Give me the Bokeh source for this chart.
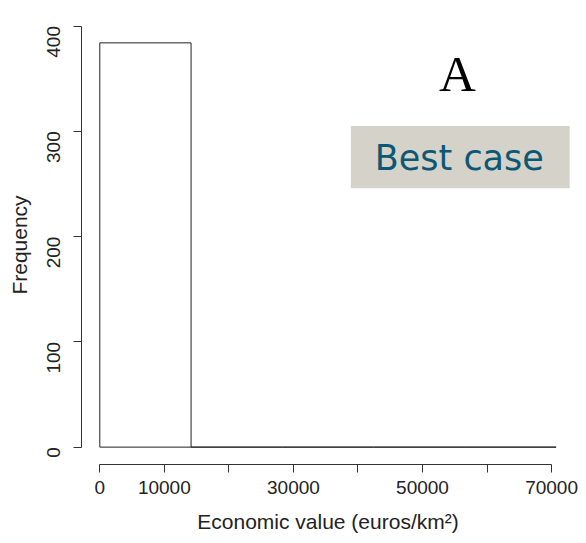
from bokeh.plotting import figure
from bokeh.models import Range1d, LinearAxis, FixedTicker, BoxAnnotation, Label
from bokeh.embed import file_html
from bokeh.resources import INLINE
import math

# Histogram data (bin edges in euros/km², counts)
bin_edges = [0, 14140, 28280, 42420, 56560, 70700]
counts = [384, 0, 0, 0, 0]
x_ticks = [0, 10000, 20000, 30000, 40000, 50000, 60000, 70000]
x_tick_labels = ["0", "10000", "", "30000", "", "50000", "", "70000"]
y_ticks = [0, 100, 200, 300, 400]
panel_letter = "A"
scenario = "Best case"

p = figure(width=578, height=535, output_backend="svg", toolbar_location=None,
           x_range=Range1d(-2837, 73550), y_range=Range1d(-16.5, 400.5),
           x_axis_location=None, y_axis_location=None,
           min_border_left=81, min_border_right=4, min_border_top=25, min_border_bottom=69)
p.outline_line_color = None
p.grid.visible = False
p.background_fill_color = "white"

p.quad(left=bin_edges[:-1], right=bin_edges[1:], top=counts, bottom=0,
       fill_color="white", line_color="#222222", line_width=1)

font = "Liberation Sans"
xaxis = LinearAxis(bounds=(0, 70000), ticker=FixedTicker(ticks=x_ticks),
                   major_label_overrides={t: l for t, l in zip(x_ticks, x_tick_labels)},
                   axis_label="Economic value (euros/km²)")
yaxis = LinearAxis(bounds=(0, 400), ticker=FixedTicker(ticks=y_ticks),
                   axis_label="Frequency", major_label_orientation=math.pi / 2)
for ax in (xaxis, yaxis):
    ax.major_tick_out = 8
    ax.major_tick_in = 0
    ax.minor_tick_out = 0
    ax.minor_tick_in = 0
    ax.axis_line_color = "#333333"
    ax.major_tick_line_color = "#333333"
    ax.major_label_text_font = font
    ax.major_label_text_font_size = "19px"
    ax.major_label_text_color = "#222222"
    ax.axis_label_text_font = font
    ax.axis_label_text_font_size = "21px"
    ax.axis_label_text_font_style = "normal"
    ax.axis_label_text_color = "#222222"
xaxis.major_label_standoff = 8
xaxis.axis_label_standoff = 13
yaxis.major_label_standoff = 20
yaxis.axis_label_standoff = 7
p.add_layout(xaxis, "below")
p.add_layout(yaxis, "left")

p.add_layout(Label(x=55400, y=354, text=panel_letter, text_align="center", text_baseline="middle",
                   text_font="Liberation Serif", text_font_size="51px", text_color="black"))
p.add_layout(BoxAnnotation(left=38900, right=72800, bottom=246, top=305,
                           fill_color="#D5D2C9", fill_alpha=1, line_color=None))
p.add_layout(Label(x=55700, y=275, text=scenario, text_align="center", text_baseline="middle",
                   text_font="DejaVu Sans", text_font_size="35px", text_color="#0C5874"))

open("out.html", "w").write(file_html(p, INLINE))
